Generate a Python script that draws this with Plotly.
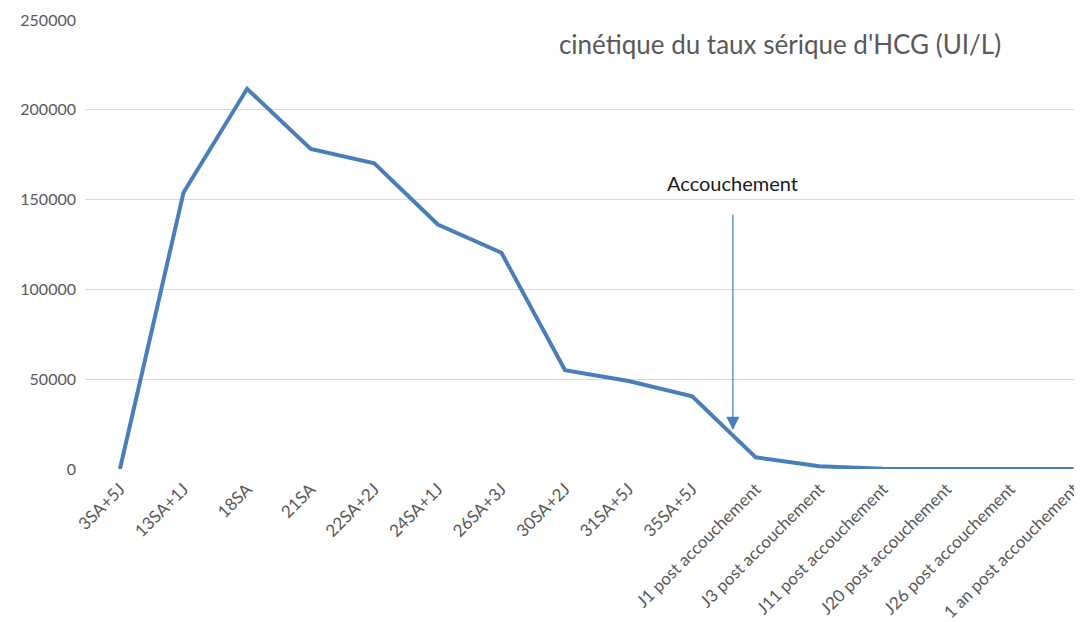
import plotly.graph_objects as go

categories = ["3SA+5J", "13SA+1J", "18SA", "21SA", "22SA+2J", "24SA+1J", "26SA+3J",
              "30SA+2J", "31SA+5J", "35SA+5J", "J1 post accouchement",
              "J3 post accouchement", "J11 post accouchement", "J20 post accouchement",
              "J26 post accouchement", "1 an post accouchement"]
hcg_values = [0, 154000, 211700, 178200, 170200, 136100, 120400,
              55000, 49000, 40500, 6500, 1500, 200, 50, 10, 0]
y_ticks = [0, 50000, 100000, 150000, 200000, 250000]

FONT = "Lato"
GREY = "#595959"
BLUE = "#4A7EBB"

# The page body has an 8px default margin, so the figure is sized to fit the window.
W, H = 1074, 614

fig = go.Figure()
fig.add_trace(go.Scatter(
    x=list(range(len(categories))), y=hcg_values, mode="lines",
    line=dict(color=BLUE, width=4), hoverinfo="skip", showlegend=False,
))

fig.update_layout(
    width=W, height=H,
    margin=dict(l=77, r=0, t=12, b=153),
    paper_bgcolor="white", plot_bgcolor="white",
    font=dict(family=FONT, color=GREY, size=13),
    title=dict(text="cinétique du taux sérique d'HCG (UI/L)",
               x=772 / W, xanchor="center", y=1 - 37 / H, yanchor="middle",
               font=dict(family=FONT, size=26, color=GREY)),
    xaxis=dict(
        range=[-0.55, 15.1], tickmode="array",
        tickvals=list(range(len(categories))), ticktext=categories,
        tickangle=-45, showgrid=False, zeroline=False, showline=False,
        tickfont=dict(size=17, color=GREY), ticks="", ticklabeloverflow="allow",
        ticklabelstandoff=6,
    ),
    yaxis=dict(
        range=[0, 250000], tickvals=y_ticks, ticktext=[str(v) for v in y_ticks],
        showgrid=True, gridcolor="#D9D9D9", gridwidth=1, zeroline=False,
        showline=False, ticks="", ticklabelstandoff=8,
        tickfont=dict(size=16, color=GREY),
    ),
)

fig.add_annotation(
    x=9.64, y=21700, ax=9.64, ay=142500, xref="x", yref="y", axref="x", ayref="y",
    text="", showarrow=True, arrowhead=2, arrowsize=2.2, arrowwidth=1.2,
    arrowcolor=BLUE,
)
fig.add_annotation(
    x=9.64, y=159500, xref="x", yref="y", text="Accouchement", showarrow=False,
    font=dict(family=FONT, size=20, color="#1a1a1a"), xanchor="center", yanchor="middle",
)

fig.write_html("out.html")
